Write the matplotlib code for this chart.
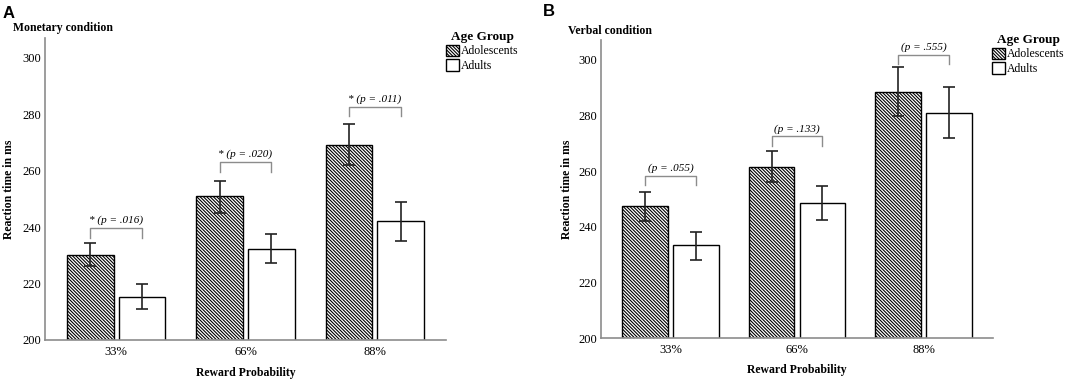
import numpy as np
import matplotlib
matplotlib.use("Agg")
import matplotlib.pyplot as plt
from matplotlib.patches import Patch

plt.rcParams['font.family'] = ['Liberation Serif', 'DejaVu Serif']
plt.rcParams['hatch.linewidth'] = 0.8

# data
categories = ['33%', '66%', '88%']
groups = ['Adolescents', 'Adults']

monetary_adol = [230.0, 251.0, 269.2]
monetary_adol_lo = [226.1, 245.0, 262.0]
monetary_adol_hi = [234.3, 256.5, 276.7]
monetary_adult = [215.2, 232.3, 242.0]
monetary_adult_lo = [211.1, 227.2, 235.2]
monetary_adult_hi = [219.8, 237.4, 248.9]
monetary_p = ['* (p = .016)', '* (p = .020)', '* (p = .011)']
monetary_bracket = [239.6, 263.0, 282.7]

verbal_adol = [247.4, 261.6, 288.5]
verbal_adol_lo = [242.0, 255.9, 279.9]
verbal_adol_hi = [252.5, 267.2, 297.3]
verbal_adult = [233.3, 248.5, 280.9]
verbal_adult_lo = [228.2, 242.3, 271.7]
verbal_adult_hi = [238.2, 254.6, 290.3]
verbal_p = ['(p = .055)', '(p = .133)', '(p = .555)']
verbal_bracket = [258.2, 272.4, 301.6]

W, H = 1084, 383
fig = plt.figure(figsize=(W / 100, H / 100), dpi=100)

HATCH = '\\' * 10
SPINE = '#8c8c8c'


def panel(rect, adol, alo, ahi, adult, dlo, dhi, ptext, bracket, title, letter, tpos, lpos, leg_pos):
    ax = fig.add_axes(rect)
    x = np.arange(len(categories))
    off, bw = 0.2, 0.36
    ax.bar(x - off, adol, bw, color='white', edgecolor='black',
           hatch=HATCH, linewidth=1.0, zorder=2)
    ax.bar(x + off, adult, bw, color='white', edgecolor='black', linewidth=1.0, zorder=2)
    a = np.array(adol)
    d = np.array(adult)
    ax.errorbar(x - off, a, yerr=[a - np.array(alo), np.array(ahi) - a], fmt='none',
                ecolor='#222222', elinewidth=1.2, capsize=4.5, capthick=1.2, zorder=3)
    ax.errorbar(x + off, d, yerr=[d - np.array(dlo), np.array(dhi) - d], fmt='none',
                ecolor='#222222', elinewidth=1.2, capsize=4.5, capthick=1.2, zorder=3)
    for i in range(len(categories)):
        yb = bracket[i]
        ax.plot([i - off, i - off, i + off, i + off], [yb - 3.3, yb, yb, yb - 3.3],
                color='#8c8c8c', lw=1.0, zorder=3)
        ax.annotate(ptext[i], (i, yb), xytext=(0, 2), textcoords='offset points',
                    ha='center', va='bottom', fontsize=8, fontstyle='italic')
    ax.set_xlim(-0.55, 2.55)
    ax.set_ylim(200, 307)
    ax.set_yticks([200, 220, 240, 260, 280, 300])
    ax.set_xticks(x)
    ax.set_xticklabels(categories)
    ax.tick_params(axis='both', length=0, labelsize=9)
    ax.tick_params(axis='y', pad=2.5)
    ax.tick_params(axis='x', pad=4)
    for s in ['top', 'right']:
        ax.spines[s].set_visible(False)
    for s in ['left', 'bottom']:
        ax.spines[s].set_color(SPINE)
        ax.spines[s].set_linewidth(1.2)
    ax.set_ylabel('Reaction time in ms', fontsize=8.5, fontweight='bold')
    ax.set_xlabel('Reward Probability', fontsize=8.5, fontweight='bold')
    ax.yaxis.set_label_coords(lpos[0], 0.5)
    ax.xaxis.set_label_coords(0.5, lpos[1])
    fig.text(tpos[0] / W, 1 - tpos[1] / H, title, fontsize=8.5, fontweight='bold', va='center')
    fig.text(letter[1] / W, 1 - letter[2] / H, letter[0], fontsize=12, fontweight='bold',
             family='Liberation Sans', va='center')
    handles = [Patch(facecolor='white', edgecolor='black', hatch=HATCH, linewidth=1.0),
               Patch(facecolor='white', edgecolor='black', linewidth=1.0)]
    leg = ax.legend(handles, groups, title='Age Group', loc='upper left',
                    bbox_to_anchor=(leg_pos[0] / W, 1 - leg_pos[1] / H),
                    bbox_transform=fig.transFigure, frameon=False, fontsize=8.5,
                    handlelength=1.1, handleheight=1.1, handletextpad=0.15,
                    labelspacing=0.15, borderpad=0, borderaxespad=0)
    leg.get_title().set_fontweight('bold')
    leg.get_title().set_fontsize(9.5)
    return ax


panel([45 / W, 1 - 340 / H, 401 / W, 302 / H],
      monetary_adol, monetary_adol_lo, monetary_adol_hi,
      monetary_adult, monetary_adult_lo, monetary_adult_hi,
      monetary_p, monetary_bracket, 'Monetary condition', ('A', 3, 13),
      (13, 28), (-0.075, -0.089), (446, 31))

panel([601 / W, 1 - 338.3 / H, 392 / W, 298.3 / H],
      verbal_adol, verbal_adol_lo, verbal_adol_hi,
      verbal_adult, verbal_adult_lo, verbal_adult_hi,
      verbal_p, verbal_bracket, 'Verbal condition', ('B', 543, 12),
      (568, 31), (-0.072, -0.086), (992, 34))

fig.savefig('out.png', dpi=100)
